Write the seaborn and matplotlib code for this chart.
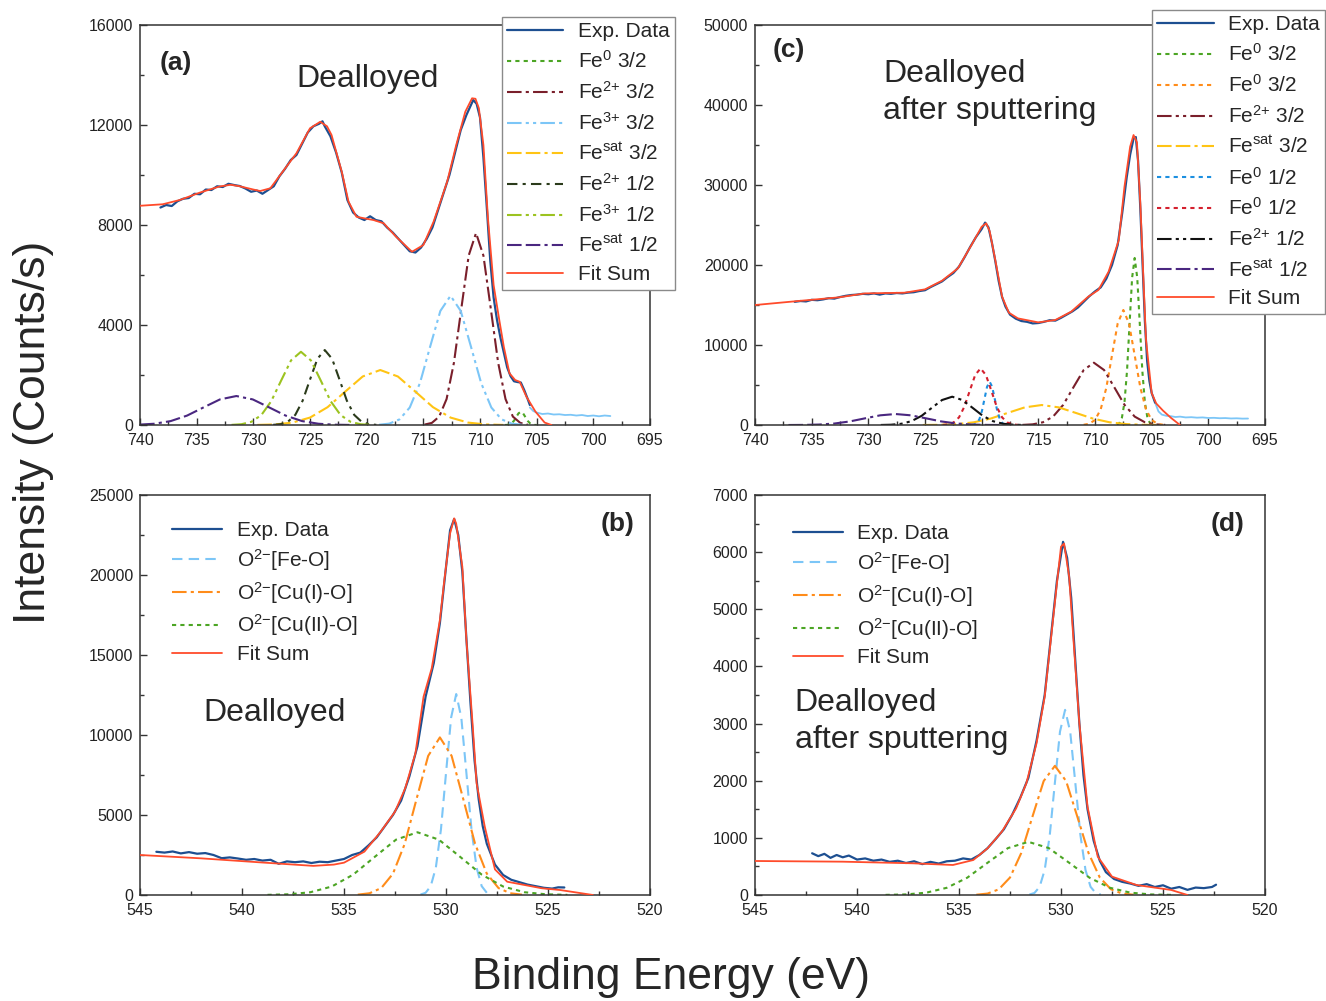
import matplotlib
matplotlib.use("Agg")
import matplotlib.pyplot as plt
import seaborn as sns
from matplotlib.ticker import MultipleLocator

# ---------------- data ----------------
# Panel (a): Fe 2p, dealloyed
a_exp_E = [738.2, 737.7, 737.2, 736.7, 736.2, 735.7, 735.2, 734.7, 734.2, 733.7, 733.2, 732.7, 732.2, 731.7,
           731.2, 730.7, 730.2, 729.7, 729.2, 728.7, 728.2, 727.7, 727.2, 726.7, 726.2, 725.7, 725.2, 724.7,
           724.2, 723.9, 723.7, 723.2, 722.7, 722.2, 721.7, 721.2, 720.7, 720.2, 719.7, 719.2, 718.7, 718.2,
           717.7, 717.2, 716.7, 716.2, 715.7, 715.2, 714.7, 714.2, 713.7, 713.2, 712.7, 712.2, 711.7, 711.2,
           710.9, 710.6, 710.3, 710.0, 709.7, 709.4, 709.1, 708.8, 708.5, 708.2, 707.9, 707.6, 707.3, 707.0,
           706.7, 706.4, 706.1, 705.8, 705.6]
a_exp_I = [8700, 8800, 8760, 8950, 9050, 9080, 9250, 9230, 9420, 9400, 9550, 9520, 9650, 9600,
           9560, 9460, 9330, 9380, 9250, 9400, 9550, 9950, 10250, 10600, 10800, 11250, 11700, 11950,
           12050, 12150, 11950, 11550, 10900, 10100, 9000, 8500, 8300, 8200, 8350, 8200, 8150, 7900,
           7700, 7450, 7200, 6950, 6900, 7100, 7450, 7900, 8600, 9300, 10000, 10900, 11800, 12400,
           12700, 13000, 12850, 12300, 10700, 8700, 6600, 5100, 4200, 3500, 2900, 2300, 1950, 1750,
           1720, 1700, 1400, 1050, 800]
a_tail_E = [705.6, 705.3, 705.0, 704.5, 704.0, 703.5, 703.0, 702.5, 702.0, 701.5, 701.0, 700.5, 700.0, 699.5, 699.0, 698.5]
a_tail_I = [700, 560, 500, 440, 460, 420, 430, 400, 410, 380, 400, 360, 380, 350, 380, 360]
a_fit_E = [740.0, 738.0, 736.5, 734.7, 733.0, 732.0, 731.2, 730.0, 729.4, 728.5, 727.6, 726.2, 725.0, 724.1,
           723.5, 723.1, 722.2, 721.6, 720.9, 720.0, 719.4, 718.5, 717.4, 716.0, 715.0, 714.1, 712.9, 712.1,
           711.3, 710.7, 710.4, 710.1, 709.7, 709.3, 708.8, 708.3, 707.9, 707.4, 706.9, 706.5, 705.9, 705.1,
           704.3, 703.7]
a_fit_I = [8770, 8830, 9000, 9300, 9540, 9610, 9550, 9420, 9360, 9470, 10020, 10870, 11870, 12130,
           11950, 11600, 10130, 8930, 8330, 8250, 8200, 8070, 7530, 6930, 7200, 8130, 9730, 11200,
           12530, 13070, 13050, 12670, 11200, 8270, 5600, 4200, 3130, 2070, 1800, 1730, 1130, 530,
           100, 0]
a_fe0_32_E = [707.8, 707.6, 707.4, 707.2, 707.0, 706.8, 706.6, 706.4, 706.2, 706.0, 705.8, 705.6, 705.4, 705.2, 705.0]
a_fe0_32_I = [1, 6, 23, 72, 172, 321, 468, 530, 468, 321, 172, 72, 23, 6, 1]
a_fe2_32_E = [714.9, 714.25, 713.6, 712.95, 712.3, 711.65, 711.0, 710.35, 709.7, 709.05, 708.4, 707.75, 707.1, 706.45, 705.8]
a_fe2_32_I = [17, 85, 337, 1039, 2494, 4658, 6778, 7680, 6778, 4658, 2494, 1039, 337, 85, 17]
a_fe3_32_E = [718.9, 718.0, 717.1, 716.2, 715.3, 714.4, 713.5, 712.6, 711.7, 710.8, 709.9, 709.0, 708.1, 707.2, 706.3]
a_fe3_32_I = [11, 57, 227, 700, 1679, 3136, 4563, 5170, 4563, 3136, 1679, 700, 227, 57, 11]
a_sat_32_E = [729.65, 728.1, 726.55, 725.0, 723.45, 721.9, 720.35, 718.8, 717.25, 715.7, 714.15, 712.6, 711.05, 709.5, 707.95]
a_sat_32_I = [5, 24, 97, 298, 714, 1334, 1942, 2200, 1942, 1334, 714, 298, 97, 24, 5]
a_fe2_12_E = [728.25, 727.6, 726.95, 726.3, 725.65, 725.0, 724.35, 723.7, 723.05, 722.4, 721.75, 721.1, 720.45, 719.8, 719.15]
a_fe2_12_I = [7, 33, 132, 406, 974, 1820, 2648, 3000, 2648, 1820, 974, 406, 132, 33, 7]
a_fe3_12_E = [731.925, 731.05, 730.175, 729.3, 728.425, 727.55, 726.675, 725.8, 724.925, 724.05, 723.175, 722.3, 721.425, 720.55, 719.675]
a_fe3_12_I = [6, 32, 129, 396, 951, 1777, 2586, 2930, 2586, 1777, 951, 396, 129, 32, 6]
a_sat_12_E = [741.65, 740.2, 738.75, 737.3, 735.85, 734.4, 732.95, 731.5, 730.05, 728.6, 727.15, 725.7, 724.25, 722.8, 721.35]
a_sat_12_I = [3, 13, 51, 157, 377, 704, 1024, 1160, 1024, 704, 377, 157, 51, 13, 3]

# Panel (c): Fe 2p, dealloyed after sputtering
c_exp_E = [736.5, 736.0, 735.5, 735.0, 734.5, 734.0, 733.5, 733.0, 732.5, 732.0, 731.5, 731.0, 730.5, 730.0,
           729.5, 729.0, 728.5, 728.0, 727.5, 727.0, 726.5, 726.0, 725.5, 725.0, 724.5, 724.0, 723.5, 723.0,
           722.5, 722.0, 721.5, 721.0, 720.5, 720.0, 719.7, 719.4, 719.1, 718.8, 718.5, 718.2, 717.9, 717.5,
           717.0, 716.5, 716.0, 715.5, 715.0, 714.5, 714.0, 713.5, 713.0, 712.5, 712.0, 711.5, 711.0, 710.5,
           710.0, 709.5, 709.0, 708.5, 708.0, 707.6, 707.2, 706.9, 706.6, 706.4, 706.2, 706.0, 705.8, 705.6,
           705.4, 705.2, 705.0, 704.7]
c_exp_I = [15400, 15500, 15450, 15650, 15600, 15700, 15850, 15800, 16000, 16150, 16250, 16300, 16400, 16350,
           16450, 16300, 16450, 16400, 16500, 16450, 16550, 16600, 16750, 16850, 17250, 17600, 17950, 18500,
           19000, 19800, 21000, 22300, 23500, 24500, 25300, 24700, 22800, 20500, 18000, 16000, 14800, 13800,
           13300, 13000, 12900, 12700, 12750, 12900, 13100, 13050, 13400, 13800, 14200, 14700, 15400, 16100,
           16700, 17200, 18300, 20000, 22500, 26500, 31000, 33800, 35800, 36000, 33000, 27000, 20000, 13000,
           8000, 5500, 4000, 2800]
c_tail_E = [704.7, 704.4, 704.1, 703.7, 703.3, 702.9, 702.5, 702.0, 701.5, 701.0, 700.5, 700.0, 699.5, 699.0,
            698.5, 698.0, 697.5, 697.0, 696.5]
c_tail_I = [2800, 1700, 1300, 1150, 1100, 1000, 1050, 950, 980, 920, 950, 880, 900, 850, 870, 820, 840, 800, 810]
c_fit_E = [740.0, 736.2, 732.6, 730.3, 726.8, 725.0, 723.5, 722.1, 720.9, 720.0, 719.6, 719.3, 718.8, 718.2,
           717.6, 716.8, 715.0, 713.5, 712.1, 710.6, 709.7, 708.8, 707.9, 707.4, 706.9, 706.6, 706.3, 706.0,
           705.7, 705.5, 705.0, 704.6, 704.0, 703.3, 702.5]
c_fit_I = [15000, 15500, 15960, 16450, 16540, 16960, 18040, 19580, 22500, 24790, 25210, 24250, 20630, 16040,
           14040, 13330, 12830, 13130, 14170, 16040, 16880, 19170, 23130, 29790, 34790, 36250, 35330, 27710,
           17290, 10630, 4000, 2700, 1800, 900, 0]
c_fe0g_32_E = [708.075, 707.85, 707.625, 707.4, 707.175, 706.95, 706.725, 706.5, 706.275, 706.05, 705.825, 705.6, 705.375, 705.15, 704.925]
c_fe0g_32_I = [46, 232, 917, 2825, 6780, 12664, 18426, 20880, 18426, 12664, 6780, 2825, 917, 232, 46]
c_fe0o_32_E = [711.0, 710.5, 710.0, 709.5, 709.0, 708.5, 708.0, 707.5, 707.0, 706.5, 706.0, 705.5, 705.0, 704.5, 704.0]
c_fe0o_32_I = [32, 160, 631, 1946, 4669, 8721, 12690, 14380, 12690, 8721, 4669, 1946, 631, 160, 32]
c_fe2_32_E = [716.4, 715.5, 714.6, 713.7, 712.8, 711.9, 711.0, 710.1, 709.2, 708.3, 707.4, 706.5, 705.6, 704.7, 703.8]
c_fe2_32_I = [17, 86, 342, 1054, 2529, 4725, 6875, 7790, 6875, 4725, 2529, 1054, 342, 86, 17]
c_sat_32_E = [725.2, 723.7, 722.2, 720.7, 719.2, 717.7, 716.2, 714.7, 713.2, 711.7, 710.2, 708.7, 707.2, 705.7, 704.2]
c_sat_32_I = [6, 28, 110, 338, 812, 1516, 2206, 2500, 2206, 1516, 812, 338, 110, 28, 6]
c_fe0b_12_E = [720.875, 720.65, 720.425, 720.2, 719.975, 719.75, 719.525, 719.3, 719.075, 718.85, 718.625, 718.4, 718.175, 717.95, 717.725]
c_fe0b_12_I = [12, 60, 238, 733, 1760, 3287, 4783, 5420, 4783, 3287, 1760, 733, 238, 60, 12]
c_fe0r_12_E = [723.425, 722.95, 722.475, 722.0, 721.525, 721.05, 720.575, 720.1, 719.625, 719.15, 718.675, 718.2, 717.725, 717.25, 716.775]
c_fe0r_12_I = [16, 79, 311, 958, 2299, 4294, 6248, 7080, 6248, 4294, 2299, 958, 311, 79, 16]
c_fe2_12_E = [728.9, 728.0, 727.1, 726.2, 725.3, 724.4, 723.5, 722.6, 721.7, 720.8, 719.9, 719.0, 718.1, 717.2, 716.3]
c_fe2_12_I = [8, 39, 155, 479, 1149, 2147, 3124, 3540, 3124, 2147, 1149, 479, 155, 39, 8]
c_sat_12_E = [737.05, 735.7, 734.35, 733.0, 731.65, 730.3, 728.95, 727.6, 726.25, 724.9, 723.55, 722.2, 720.85, 719.5, 718.15]
c_sat_12_I = [3, 15, 60, 186, 446, 834, 1213, 1375, 1213, 834, 446, 186, 60, 15, 3]

# Panel (b): O 1s, dealloyed
b_exp_E = [544.2, 543.8, 543.4, 543.0, 542.6, 542.2, 541.8, 541.4, 541.0, 540.6, 540.2, 539.8, 539.4, 539.0,
           538.6, 538.2, 537.8, 537.4, 537.0, 536.6, 536.2, 535.8, 535.4, 535.0, 534.6, 534.2, 533.8, 533.4,
           533.0, 532.6, 532.2, 531.8, 531.4, 531.0, 530.6, 530.3, 530.0, 529.8, 529.6, 529.4, 529.2, 529.0,
           528.8, 528.6, 528.4, 528.2, 528.0, 527.6, 527.2, 526.8, 526.4, 526.0, 525.6, 525.2, 524.8, 524.5, 524.2]
b_exp_I = [2700, 2650, 2720, 2600, 2680, 2580, 2620, 2500, 2300, 2350, 2280, 2200, 2250, 2150,
           2200, 1950, 2100, 2050, 2100, 2000, 2080, 2050, 2150, 2250, 2500, 2650, 3100, 3600,
           4300, 5000, 5900, 7400, 9300, 12400, 14500, 17000, 20500, 22800, 23500, 22500, 20200, 16000,
           12000, 8400, 6000, 4300, 3200, 1900, 1250, 950, 800, 650, 550, 450, 400, 480, 470]
b_fit_E = [545.0, 542.0, 539.0, 536.5, 535.5, 535.0, 534.0, 533.2, 532.5, 532.0, 531.5, 531.1, 530.7, 530.3,
           530.1, 529.8, 529.6, 529.5, 529.2, 529.0, 528.7, 528.5, 528.1, 527.6, 527.0, 525.3, 524.4, 522.8]
b_fit_I = [2500, 2290, 2030, 1820, 1900, 2020, 2710, 3960, 5210, 6670, 8850, 12400, 14170, 17190,
           19480, 22600, 23540, 23200, 20520, 15940, 10730, 6980, 4270, 1600, 830, 420, 310, 0]
b_feo_E = [531.25, 531.0, 530.75, 530.5, 530.25, 530.0, 529.75, 529.5, 529.25, 529.0, 528.75, 528.5, 528.25, 528.0, 527.75]
b_feo_I = [28, 138, 551, 1699, 4078, 7618, 11084, 12560, 11084, 7618, 4078, 1699, 551, 138, 28]
b_cu1_E = [534.325, 533.75, 533.175, 532.6, 532.025, 531.45, 530.875, 530.3, 529.725, 529.15, 528.575, 528.0, 527.425, 526.85, 526.275]
b_cu1_I = [22, 109, 432, 1333, 3198, 5974, 8693, 9850, 8693, 5974, 3198, 1333, 432, 109, 22]
b_cu2_E = [538.75, 537.7, 536.65, 535.6, 534.55, 533.5, 532.45, 531.4, 530.35, 529.3, 528.25, 527.2, 526.15, 525.1, 524.05]
b_cu2_I = [9, 44, 172, 530, 1273, 2377, 3459, 3920, 3459, 2377, 1273, 530, 172, 44, 9]

# Panel (d): O 1s, dealloyed after sputtering
d_exp_E = [542.2, 541.9, 541.6, 541.3, 541.0, 540.7, 540.4, 540.0, 539.6, 539.2, 538.8, 538.4, 538.0, 537.6,
           537.2, 536.8, 536.4, 536.0, 535.6, 535.2, 534.8, 534.4, 534.0, 533.6, 533.2, 532.8, 532.4, 532.0,
           531.6, 531.2, 530.8, 530.5, 530.2, 529.9, 529.7, 529.5, 529.3, 529.1, 528.9, 528.7, 528.4, 528.1,
           527.8, 527.4, 527.0, 526.6, 526.2, 525.8, 525.4, 525.0, 524.6, 524.2, 523.8, 523.4, 523.0, 522.6, 522.4]
d_exp_I = [730, 680, 720, 650, 700, 660, 690, 620, 640, 600, 620, 580, 600, 560,
           590, 540, 580, 550, 590, 600, 640, 620, 700, 820, 980, 1150, 1400, 1700,
           2050, 2700, 3500, 4500, 5500, 6180, 5900, 5200, 4100, 3000, 2100, 1500, 950, 600,
           400, 280, 230, 200, 160, 190, 140, 170, 110, 140, 90, 130, 120, 140, 180]
d_fit_E = [545.0, 540.7, 537.3, 535.3, 534.3, 533.6, 532.9, 532.2, 531.7, 531.2, 530.8, 530.5, 530.2, 530.0,
           529.85, 529.6, 529.4, 529.1, 528.7, 528.2, 527.5, 526.3, 524.6, 523.8]
d_fit_I = [595, 583, 555, 525, 612, 817, 1108, 1517, 1954, 2654, 3470, 4462, 5454, 6096,
           6150, 5570, 4520, 3004, 1546, 671, 321, 175, 88, 0]
d_feo_E = [531.55, 531.3, 531.05, 530.8, 530.55, 530.3, 530.05, 529.8, 529.55, 529.3, 529.05, 528.8, 528.55, 528.3, 528.05]
d_feo_I = [7, 36, 142, 438, 1052, 1966, 2859, 3240, 2859, 1966, 1052, 438, 142, 36, 7]
d_cu1_E = [534.15, 533.6, 533.05, 532.5, 531.95, 531.4, 530.85, 530.3, 529.75, 529.2, 528.65, 528.1, 527.55, 527.0, 526.45]
d_cu1_I = [5, 25, 99, 306, 734, 1371, 1994, 2260, 1994, 1371, 734, 306, 99, 25, 5]
d_cu2_E = [538.6, 537.6, 536.6, 535.6, 534.6, 533.6, 532.6, 531.6, 530.6, 529.6, 528.6, 527.6, 526.6, 525.6, 524.6]
d_cu2_I = [2, 10, 41, 126, 302, 564, 821, 930, 821, 564, 302, 126, 41, 10, 2]

# ---------------- style ----------------
sns.set_style("ticks")
plt.rcParams["font.family"] = ["Liberation Sans", "DejaVu Sans"]
plt.rcParams["mathtext.fontset"] = "custom"
plt.rcParams["mathtext.rm"] = "Liberation Sans"
plt.rcParams["mathtext.it"] = "Liberation Sans:italic"
plt.rcParams["mathtext.bf"] = "Liberation Sans:bold"
plt.rcParams["mathtext.sf"] = "Liberation Sans"

C_EXP = "#1d4f91"
C_FIT = "#ff4b2b"
C_GREEN = "#4ca524"
C_MAROON = "#7a1f2b"
C_LBLUE = "#7cc6f7"
C_GOLD = "#ffc414"
C_OLIVE = "#2b3b1b"
C_YGREEN = "#9cc320"
C_PURPLE = "#4a2780"
C_ORANGE = "#ff8c1a"
C_BLUE = "#1c8fe0"
C_RED = "#d4202e"
C_BLACK = "#111111"

DOT = (0, (2, 2))
DASH = (0, (5, 3))
DASHDOT = (0, (7, 2, 1.5, 2))
DASHDOT_S = (0, (5, 2.5, 1.5, 2.5))
DASHDOTDOT = (0, (7, 2, 1.5, 2, 1.5, 2))
DASHDASHDOT = (0, (7, 2, 7, 2, 1.5, 2))

L_FE0 = r"Fe$^{0}$"
L_FE2 = r"Fe$^{2{+}}$"
L_FE3 = r"Fe$^{3{+}}$"
L_SAT = r"Fe$^{\mathrm{sat}}$"
L_O2 = r"O$^{2{-}}$"


def curve(ax, E, I, color, ls="-", lw=1.5, label=None, z=2):
    kw = dict(x=E, y=I, ax=ax, color=color, linestyle=ls, linewidth=lw,
              sort=False, estimator=None, errorbar=None, zorder=z)
    if label is not None:
        kw["label"] = label
    sns.lineplot(**kw)


def style_axis(ax, xlim, ylim, xmaj, xmin, ymaj, ymin):
    ax.set_xlim(*xlim)
    ax.set_ylim(*ylim)
    ax.xaxis.set_major_locator(MultipleLocator(xmaj))
    ax.xaxis.set_minor_locator(MultipleLocator(xmin))
    ax.yaxis.set_major_locator(MultipleLocator(ymaj))
    ax.yaxis.set_minor_locator(MultipleLocator(ymin))
    ax.tick_params(which="both", direction="in", top=False, right=False,
                   labelsize=11.5, color="#333333", labelcolor="#222222")
    ax.tick_params(which="major", length=5, width=1.0)
    ax.tick_params(which="minor", length=3, width=1.0)
    ax.tick_params(axis="x", which="major", pad=5.5)
    ax.tick_params(axis="y", which="major", pad=5)
    for s in ax.spines.values():
        s.set_color("#333333")
        s.set_linewidth(1.1)
    ax.set_xlabel("")
    ax.set_ylabel("")


fig = plt.figure(figsize=(13.26, 10.01), dpi=100)
W, H = 0.3846, 0.3996
ax_a = fig.add_axes([0.1056, 0.5754, W, H])
ax_c = fig.add_axes([0.5694, 0.5754, W, H])
ax_b = fig.add_axes([0.1056, 0.1059, W, H])
ax_d = fig.add_axes([0.5694, 0.1059, W, H])

LEG_SP = 0.43
LEG_SP_O = 0.33

# ---- panel (a)
ax = ax_a
curve(ax, a_exp_E, a_exp_I, C_EXP, "-", 1.6, "Exp. Data", 4)
curve(ax, a_fe0_32_E, a_fe0_32_I, C_GREEN, DOT, 1.5, L_FE0 + " 3/2")
curve(ax, a_fe2_32_E, a_fe2_32_I, C_MAROON, DASHDOT, 1.5, L_FE2 + " 3/2")
curve(ax, a_fe3_32_E, a_fe3_32_I, C_LBLUE, DASHDOTDOT, 1.5, L_FE3 + " 3/2")
curve(ax, a_sat_32_E, a_sat_32_I, C_GOLD, DASHDASHDOT, 1.5, L_SAT + " 3/2")
curve(ax, a_fe2_12_E, a_fe2_12_I, C_OLIVE, DASHDOT_S, 1.5, L_FE2 + " 1/2")
curve(ax, a_fe3_12_E, a_fe3_12_I, C_YGREEN, DASHDOTDOT, 1.5, L_FE3 + " 1/2")
curve(ax, a_sat_12_E, a_sat_12_I, C_PURPLE, DASHDASHDOT, 1.5, L_SAT + " 1/2")
curve(ax, a_fit_E, a_fit_I, C_FIT, "-", 1.3, "Fit Sum", 5)
curve(ax, a_tail_E, a_tail_I, C_LBLUE, "-", 1.3, None, 3)
style_axis(ax, (740, 695), (0, 16000), 5, 2.5, 4000, 2000)
ax.text(0.038, 0.905, "(a)", transform=ax.transAxes, fontsize=19, fontweight="bold", va="center", ha="left")
ax.text(0.306, 0.865, "Dealloyed", transform=ax.transAxes, fontsize=23, va="center", ha="left")
leg = ax.legend(loc="upper right", bbox_to_anchor=(1.049, 1.02), fontsize=15, frameon=True, fancybox=False,
                edgecolor="#8a8a8a", framealpha=1, handlelength=2.7, handletextpad=0.7, labelspacing=LEG_SP,
                borderpad=0.25, borderaxespad=0)
leg.get_frame().set_linewidth(1.0)

# ---- panel (c)
ax = ax_c
curve(ax, c_exp_E, c_exp_I, C_EXP, "-", 1.6, "Exp. Data", 4)
curve(ax, c_fe0g_32_E, c_fe0g_32_I, C_GREEN, DOT, 1.5, L_FE0 + " 3/2")
curve(ax, c_fe0o_32_E, c_fe0o_32_I, C_ORANGE, DOT, 1.5, L_FE0 + " 3/2")
curve(ax, c_fe2_32_E, c_fe2_32_I, C_MAROON, DASHDOTDOT, 1.5, L_FE2 + " 3/2")
curve(ax, c_sat_32_E, c_sat_32_I, C_GOLD, DASHDASHDOT, 1.5, L_SAT + " 3/2")
curve(ax, c_fe0b_12_E, c_fe0b_12_I, C_BLUE, DOT, 1.5, L_FE0 + " 1/2")
curve(ax, c_fe0r_12_E, c_fe0r_12_I, C_RED, DOT, 1.5, L_FE0 + " 1/2")
curve(ax, c_fe2_12_E, c_fe2_12_I, C_BLACK, DASHDOTDOT, 1.5, L_FE2 + " 1/2")
curve(ax, c_sat_12_E, c_sat_12_I, C_PURPLE, DASHDASHDOT, 1.5, L_SAT + " 1/2")
curve(ax, c_fit_E, c_fit_I, C_FIT, "-", 1.3, "Fit Sum", 5)
curve(ax, c_tail_E, c_tail_I, C_LBLUE, "-", 1.3, None, 3)
style_axis(ax, (740, 695), (0, 50000), 5, 2.5, 10000, 5000)
ax.text(0.035, 0.9375, "(c)", transform=ax.transAxes, fontsize=19, fontweight="bold", va="center", ha="left")
ax.text(0.251, 0.831, "Dealloyed\nafter sputtering", transform=ax.transAxes, fontsize=23,
        va="center", ha="left", linespacing=1.33)
leg = ax.legend(loc="upper right", bbox_to_anchor=(1.118, 1.037), fontsize=15, frameon=True, fancybox=False,
                edgecolor="#8a8a8a", framealpha=1, handlelength=2.7, handletextpad=0.7, labelspacing=LEG_SP,
                borderpad=0.25, borderaxespad=0)
leg.get_frame().set_linewidth(1.0)

# ---- panel (b)
ax = ax_b
curve(ax, b_exp_E, b_exp_I, C_EXP, "-", 1.6, "Exp. Data", 4)
curve(ax, b_feo_E, b_feo_I, C_LBLUE, DASH, 1.5, L_O2 + "[Fe-O]")
curve(ax, b_cu1_E, b_cu1_I, C_ORANGE, DASHDOT, 1.5, L_O2 + "[Cu(I)-O]")
curve(ax, b_cu2_E, b_cu2_I, C_GREEN, DOT, 1.5, L_O2 + "[Cu(II)-O]")
curve(ax, b_fit_E, b_fit_I, C_FIT, "-", 1.3, "Fit Sum", 5)
style_axis(ax, (545, 520), (0, 25000), 5, 2.5, 5000, 2500)
ax.text(0.97, 0.9275, "(b)", transform=ax.transAxes, fontsize=19, fontweight="bold", va="center", ha="right")
ax.text(0.1235, 0.455, "Dealloyed", transform=ax.transAxes, fontsize=23, va="center", ha="left")
ax.legend(loc="upper left", bbox_to_anchor=(0.053, 0.948), fontsize=15, frameon=False,
          handlelength=2.4, handletextpad=0.7, labelspacing=LEG_SP_O, borderpad=0.25, borderaxespad=0)

# ---- panel (d)
ax = ax_d
curve(ax, d_exp_E, d_exp_I, C_EXP, "-", 1.6, "Exp. Data", 4)
curve(ax, d_feo_E, d_feo_I, C_LBLUE, DASH, 1.5, L_O2 + "[Fe-O]")
curve(ax, d_cu1_E, d_cu1_I, C_ORANGE, DASHDOT, 1.5, L_O2 + "[Cu(I)-O]")
curve(ax, d_cu2_E, d_cu2_I, C_GREEN, DOT, 1.5, L_O2 + "[Cu(II)-O]")
curve(ax, d_fit_E, d_fit_I, C_FIT, "-", 1.3, "Fit Sum", 5)
style_axis(ax, (545, 520), (0, 7000), 5, 2.5, 1000, 500)
ax.text(0.959, 0.9275, "(d)", transform=ax.transAxes, fontsize=19, fontweight="bold", va="center", ha="right")
ax.text(0.078, 0.434, "Dealloyed\nafter sputtering", transform=ax.transAxes, fontsize=23,
        va="center", ha="left", linespacing=1.33)
ax.legend(loc="upper left", bbox_to_anchor=(0.064, 0.94), fontsize=15, frameon=False,
          handlelength=2.4, handletextpad=0.7, labelspacing=LEG_SP_O, borderpad=0.25, borderaxespad=0)

fig.text(0.025, 0.568, "Intensity (Counts/s)", rotation=90, fontsize=32, va="center", ha="center")
fig.text(0.506, 0.023, "Binding Energy (eV)", fontsize=32, va="center", ha="center")

fig.savefig("out.png", dpi=100)
